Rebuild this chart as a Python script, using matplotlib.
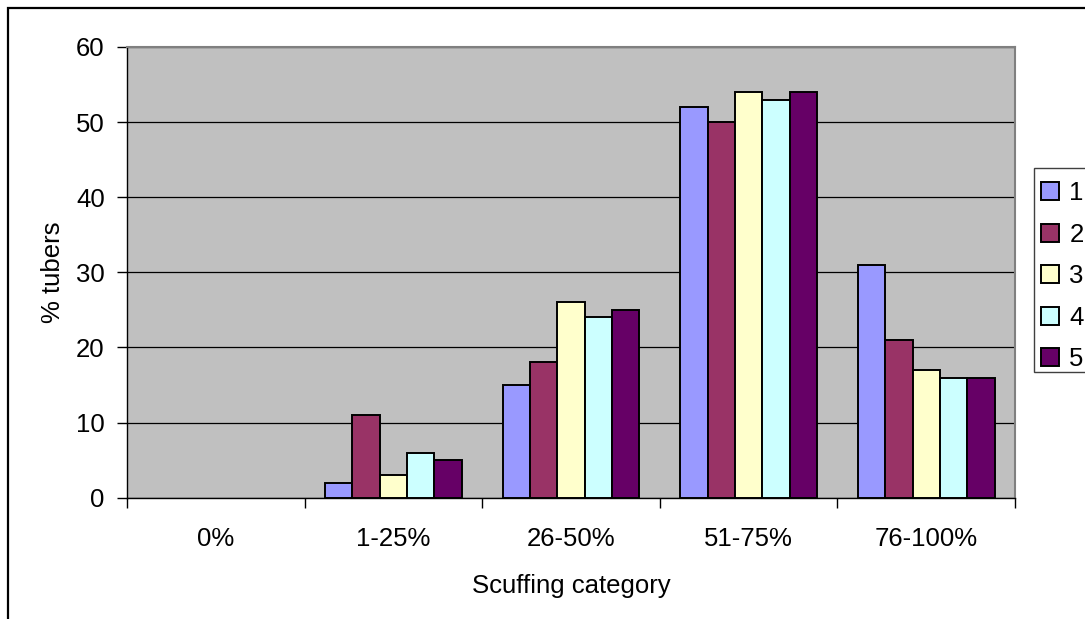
import numpy as np
import matplotlib.pyplot as plt
from matplotlib.patches import Patch, Rectangle

plt.rcParams["font.family"] = ["Liberation Sans", "DejaVu Sans"]
plt.rcParams["font.size"] = 18.5

categories = ["0%", "1-25%", "26-50%", "51-75%", "76-100%"]
series_names = ["1", "2", "3", "4", "5"]
values = {
    "1": [0, 2, 15, 52, 31],
    "2": [0, 11, 18, 50, 21],
    "3": [0, 3, 26, 54, 17],
    "4": [0, 6, 24, 53, 16],
    "5": [0, 5, 25, 54, 16],
}
colors = ["#9999FF", "#993366", "#FFFFCC", "#CCFFFF", "#660066"]

W, H = 1085, 619
fig = plt.figure(figsize=(W / 100, H / 100), dpi=100)

# outer chart frame (runs off the right and bottom edges)
fig.patches.append(Rectangle((8 / W, -0.1), 1.2, 1.1 - 7.5 / H,
                             transform=fig.transFigure, fill=False,
                             edgecolor="black", linewidth=1.6))

ax = fig.add_axes([127 / W, 1 - 497.7 / H, (1015 - 127) / W, (497.7 - 47) / H])
ax.set_facecolor("#C0C0C0")

x = np.arange(len(categories))
bw = 1 / 6.5
for i, (name, c) in enumerate(zip(series_names, colors)):
    vals = values[name]
    # empty bars get no outline so nothing shows at zero
    lws = [1.4 if v > 0 else 0 for v in vals]
    ax.bar(x + (i - 2) * bw, vals, width=bw, color=c,
           edgecolor="black", linewidth=lws, zorder=3)

ax.set_xlim(-0.5, len(categories) - 0.5)
ax.set_ylim(0, 60)
ax.set_yticks(range(0, 61, 10))
ax.yaxis.grid(True, color="black", linewidth=0.9, zorder=1)
ax.set_axisbelow(True)

ax.set_xticks(x)
ax.set_xticklabels(categories)
ax.set_xticks(np.arange(-0.5, len(categories)), minor=True)
ax.tick_params(axis="x", which="major", length=0, pad=21)
ax.tick_params(axis="x", which="minor", length=7, width=1, direction="out")
ax.tick_params(axis="y", length=7, width=1, direction="out", pad=9)

for s in ["top", "right"]:
    ax.spines[s].set_color("#808080")
    ax.spines[s].set_linewidth(1.5)
for s in ["left", "bottom"]:
    ax.spines[s].set_color("black")
    ax.spines[s].set_linewidth(1.0)

ax.set_xlabel("Scuffing category", labelpad=17)
ax.set_ylabel("% tubers", labelpad=8)

# legend box, also cut by the right edge
fig.patches.append(Rectangle((1034 / W, 1 - 372 / H), 0.2, (372 - 168) / H,
                             transform=fig.transFigure, facecolor="white",
                             edgecolor="#404040", linewidth=1.0))
handles = [Patch(facecolor=c, edgecolor="black", linewidth=1.4) for c in colors]
fig.legend(handles, series_names, loc="upper left",
           bbox_to_anchor=(1036 / W, 1 - 176 / H), frameon=False,
           handlelength=0.7, handleheight=0.7, handletextpad=0.4,
           labelspacing=0.68, borderpad=0.2, borderaxespad=0)

fig.savefig("out.png", dpi=100)
